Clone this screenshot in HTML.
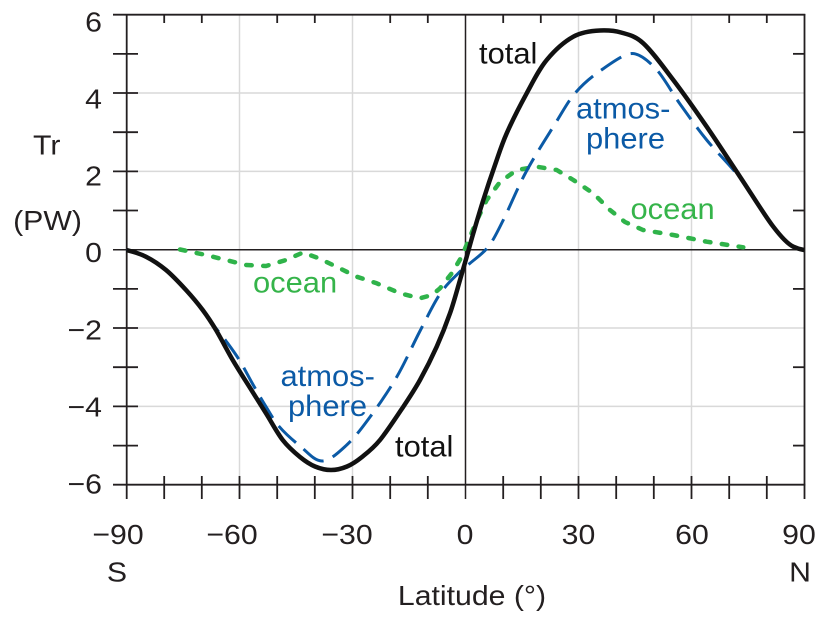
<!DOCTYPE html>
<html><head><meta charset="utf-8"><style>
html,body{margin:0;padding:0;background:#fff;}
svg{display:block;}
text{font-family:"Liberation Sans",Arial,sans-serif;}
</style></head><body>
<svg width="816" height="632" viewBox="0 0 816 632" xmlns="http://www.w3.org/2000/svg">
<rect width="816" height="632" fill="#fff"/>
<g stroke="#d9d9d9" stroke-width="1.5" fill="none">
<line x1="239.5" y1="14.7" x2="239.5" y2="484.7"/>
<line x1="352.5" y1="14.7" x2="352.5" y2="484.7"/>
<line x1="578.5" y1="14.7" x2="578.5" y2="484.7"/>
<line x1="691.5" y1="14.7" x2="691.5" y2="484.7"/>
<line x1="126.7" y1="93" x2="804.5" y2="93"/>
<line x1="126.7" y1="171.4" x2="804.5" y2="171.4"/>
<line x1="126.7" y1="328" x2="804.5" y2="328"/>
<line x1="126.7" y1="406.4" x2="804.5" y2="406.4"/>
</g>
<g stroke="#231f20" stroke-width="1.8" fill="none">
<line x1="113" y1="14.7" x2="805.3" y2="14.7"/>
<line x1="113" y1="484.7" x2="805.3" y2="484.7"/>
<line x1="126.7" y1="14" x2="126.7" y2="499"/>
<line x1="804.5" y1="14" x2="804.5" y2="499"/>
<line x1="113" y1="249.7" x2="804.5" y2="249.7" stroke-width="1.5"/>
<line x1="465.5" y1="14.7" x2="465.5" y2="499" stroke-width="1.5"/>
<line x1="113" y1="53.85" x2="138" y2="53.85"/>
<line x1="113" y1="93" x2="138" y2="93"/>
<line x1="113" y1="132.2" x2="138" y2="132.2"/>
<line x1="113" y1="171.4" x2="138" y2="171.4"/>
<line x1="113" y1="210.5" x2="138" y2="210.5"/>
<line x1="113" y1="288.9" x2="138" y2="288.9"/>
<line x1="113" y1="328" x2="138" y2="328"/>
<line x1="113" y1="367.2" x2="138" y2="367.2"/>
<line x1="113" y1="406.4" x2="138" y2="406.4"/>
<line x1="113" y1="445.6" x2="138" y2="445.6"/>
<line x1="793" y1="53.85" x2="804.5" y2="53.85"/>
<line x1="793" y1="132.2" x2="804.5" y2="132.2"/>
<line x1="793" y1="210.5" x2="804.5" y2="210.5"/>
<line x1="793" y1="288.9" x2="804.5" y2="288.9"/>
<line x1="793" y1="367.2" x2="804.5" y2="367.2"/>
<line x1="793" y1="445.6" x2="804.5" y2="445.6"/>
<line x1="164.2" y1="476" x2="164.2" y2="499"/>
<line x1="201.8" y1="476" x2="201.8" y2="499"/>
<line x1="239.5" y1="476" x2="239.5" y2="499"/>
<line x1="277.2" y1="476" x2="277.2" y2="499"/>
<line x1="314.8" y1="476" x2="314.8" y2="499"/>
<line x1="352.5" y1="476" x2="352.5" y2="499"/>
<line x1="390.2" y1="476" x2="390.2" y2="499"/>
<line x1="427.8" y1="476" x2="427.8" y2="499"/>
<line x1="503.2" y1="476" x2="503.2" y2="499"/>
<line x1="540.8" y1="476" x2="540.8" y2="499"/>
<line x1="578.5" y1="476" x2="578.5" y2="499"/>
<line x1="616.2" y1="476" x2="616.2" y2="499"/>
<line x1="653.8" y1="476" x2="653.8" y2="499"/>
<line x1="691.5" y1="476" x2="691.5" y2="499"/>
<line x1="729.2" y1="476" x2="729.2" y2="499"/>
<line x1="766.8" y1="476" x2="766.8" y2="499"/>
<line x1="164.2" y1="14.7" x2="164.2" y2="23"/>
<line x1="201.8" y1="14.7" x2="201.8" y2="23"/>
<line x1="277.2" y1="14.7" x2="277.2" y2="23"/>
<line x1="314.8" y1="14.7" x2="314.8" y2="23"/>
<line x1="390.2" y1="14.7" x2="390.2" y2="23"/>
<line x1="427.8" y1="14.7" x2="427.8" y2="23"/>
<line x1="503.2" y1="14.7" x2="503.2" y2="23"/>
<line x1="540.8" y1="14.7" x2="540.8" y2="23"/>
<line x1="616.2" y1="14.7" x2="616.2" y2="23"/>
<line x1="653.8" y1="14.7" x2="653.8" y2="23"/>
<line x1="729.2" y1="14.7" x2="729.2" y2="23"/>
<line x1="766.8" y1="14.7" x2="766.8" y2="23"/>
</g>
<polyline fill="none" stroke="#2fb34a" stroke-width="4.5" stroke-linecap="round" stroke-linejoin="round" stroke-dasharray="5.5 11.5"
points="180,249.5 206,255 226,260 246,265 266,266 286,260 303,252.5 318,258 335,266 356.7,276.7 376.7,283.3 400,293.3 420,298.3 432,295 440,288.3 451.7,273.3 461.7,256.7 470,236.7 478,218 486.7,200 500,182 516.7,170 536.7,166.7 556.7,170 573.3,180 593.3,193.3 610,210 625,222 643,230 673.3,235 706.7,241.7 743.3,247.3"/>
<path fill="none" stroke="#0b5aa6" stroke-width="3" stroke-dasharray="24 10"
d="M126.5,250 C129.75,250.8 139.42,253.37 146,256.7 C152.58,260.03 159.33,264.45 166,270 C172.67,275.55 179.88,283.33 186,290 C192.12,296.67 197.87,303.83 202.7,310 C207.53,316.17 211.12,321.83 215,327 C218.88,332.17 221.95,335.5 226,341 C230.05,346.5 234.85,352.83 239.3,360 C243.75,367.17 248.25,376.22 252.7,384 C257.15,391.78 261.57,399.58 266,406.7 C270.43,413.82 273.63,420.15 279.3,426.7 C284.97,433.25 292.88,440.28 300,446 C307.12,451.72 314.22,461 322,461 C329.78,461 338.7,452.33 346.7,445 C354.7,437.67 361.67,428.33 370,417 C378.33,405.67 388.37,391.33 396.7,377 C405.03,362.67 412.78,344.83 420,331 C427.22,317.17 433.62,303.62 440,294 C446.38,284.38 453.3,278.42 458.3,273.3 C463.3,268.18 465,267.73 470,263.3 C475,258.87 482.75,253.92 488.3,246.7 C493.85,239.48 497.02,232.45 503.3,220 C509.58,207.55 517.38,188 526,172 C534.62,156 546.83,137.12 555,124 C563.17,110.88 567.5,102.13 575,93.3 C582.5,84.47 590.5,77.63 600,71 C609.5,64.37 624,53.5 632,53.5 C640,53.5 648,60.58 656,69 C664,77.42 671.55,92.17 680,104 C688.45,115.83 696.7,127.67 706.7,140 C716.7,152.33 728.9,163.5 740,178 C751.1,192.5 764.42,215.55 773.3,227 C782.18,238.45 788.13,244.2 793.3,246.7 C798.47,249.2 801.3,249.5 804.3,250"/>
<path fill="none" stroke="#111" stroke-width="4.5" stroke-linejoin="round"
d="M126.5,250 C129.75,250.8 139.42,253.37 146,256.7 C152.58,260.03 159.33,264.45 166,270 C172.67,275.55 179.88,283.33 186,290 C192.12,296.67 197.7,303.33 202.7,310 C207.7,316.67 211,321.67 216,330 C221,338.33 227.15,350.55 232.7,360 C238.25,369.45 243.75,377.82 249.3,386.7 C254.85,395.58 260.43,404.42 266,413.3 C271.57,422.18 277.03,432.72 282.7,440 C288.37,447.28 294.62,452.58 300,457 C305.38,461.42 309.83,464.33 315,466.5 C320.17,468.67 325.67,470 331,470 C336.33,470 341.83,468.67 347,466.5 C352.17,464.33 356.5,461.42 362,457 C367.5,452.58 373.12,448.38 380,440 C386.88,431.62 396.63,416.7 403.3,406.7 C409.97,396.7 414.43,390 420,380 C425.57,370 431.7,357.82 436.7,346.7 C441.7,335.58 446.12,324.42 450,313.3 C453.88,302.18 457.22,289.43 460,280 C462.78,270.57 464.48,264.48 466.7,256.7 C468.92,248.92 470.53,242.75 473.3,233.3 C476.07,223.85 479.68,211.38 483.3,200 C486.92,188.62 491.1,176.12 495,165 C498.9,153.88 501.42,145.25 506.7,133.3 C511.98,121.35 520.03,105.52 526.7,93.3 C533.37,81.08 538.93,69.43 546.7,60 C554.47,50.57 564.42,41.62 573.3,36.7 C582.18,31.78 592.05,30.8 600,30.5 C607.95,30.2 613.78,30.37 621,32.5 C628.22,34.63 634.58,35.38 643.3,43.3 C652.02,51.22 662.73,66.1 673.3,80 C683.87,93.9 695.58,110.58 706.7,126.7 C717.82,142.82 728.9,160.03 740,176.7 C751.1,193.37 764.42,215.03 773.3,226.7 C782.18,238.37 788.13,244.2 793.3,246.7 C798.47,249.2 801.3,249.5 804.3,250"/>
<g font-size="28" fill="#231f20" text-anchor="end">
<text transform="translate(102,31.7) scale(1.08,1)">6</text>
<text transform="translate(102,108.7) scale(1.08,1)">4</text>
<text transform="translate(102,185.7) scale(1.08,1)">2</text>
<text transform="translate(102,262) scale(1.08,1)">0</text>
<text transform="translate(102,339.7) scale(1.08,1)">−2</text>
<text transform="translate(102,416.7) scale(1.08,1)">−4</text>
<text transform="translate(102,493.7) scale(1.08,1)">−6</text>
</g>
<g font-size="28" fill="#231f20" text-anchor="middle">
<text transform="translate(118,544) scale(1.08,1)">−90</text>
<text transform="translate(232,544) scale(1.08,1)">−60</text>
<text transform="translate(347,544) scale(1.08,1)">−30</text>
<text transform="translate(465,544) scale(1.08,1)">0</text>
<text transform="translate(578.5,544) scale(1.08,1)">30</text>
<text transform="translate(692,544) scale(1.08,1)">60</text>
<text transform="translate(799,544) scale(1.08,1)">90</text>
<text transform="translate(117,581.5) scale(1.08,1)">S</text>
<text transform="translate(800,581.5) scale(1.08,1)">N</text>
<text transform="translate(472,605) scale(1.08,1)">Latitude (°)</text>
<text transform="translate(46.7,154.3) scale(1.08,1)">Tr</text>
<text transform="translate(47.5,230) scale(1.08,1)">(PW)</text>
</g>
<g font-size="30">
<text fill="#111" transform="translate(479,63.3) scale(1.03,1)">total</text>
<text fill="#111" transform="translate(395,456.7) scale(1.03,1)">total</text>
<text fill="#0b5aa6" transform="translate(576,118.3) scale(1.03,1)">atmos-</text>
<text fill="#0b5aa6" transform="translate(586,148.3) scale(1.03,1)">phere</text>
<text fill="#0b5aa6" transform="translate(280.5,386) scale(1.03,1)">atmos-</text>
<text fill="#0b5aa6" transform="translate(288,416) scale(1.03,1)">phere</text>
<text fill="#35b44a" transform="translate(630.5,219) scale(1.03,1)">ocean</text>
<text fill="#35b44a" transform="translate(253,292.7) scale(1.03,1)">ocean</text>
</g>
</svg>
</body></html>
